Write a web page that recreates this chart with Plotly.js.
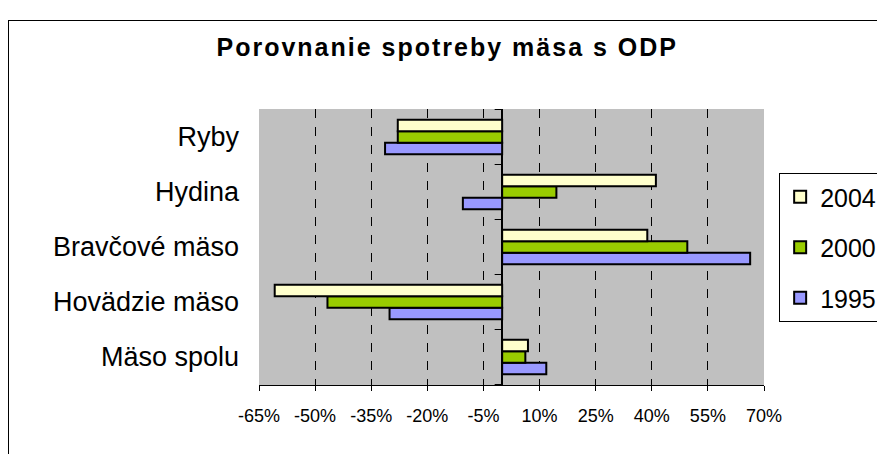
<!DOCTYPE html>
<html>
<head>
<meta charset="utf-8">
<script src="https://cdn.plot.ly/plotly-3.0.1.min.js"></script>
<style>
  html, body { margin: 0; padding: 0; background: #fff; overflow: hidden; }
  #chart { width: 877px; height: 454px; }
  #frame { position: absolute; left: 8px; top: 20px; width: 900px; height: 460px; border: 1px solid #000; pointer-events: none; }
  .gtitle { letter-spacing: 2px; }
</style>
</head>
<body>
<div id="chart"></div>
<div id="frame"></div>
<script>
// Categories (bottom to top as drawn)
const categories = ['Mäso spolu', 'Hovädzie mäso', 'Bravčové mäso', 'Hydina', 'Ryby'];
// Series values (percent)
const v2004 = [6.9, -60.8, 38.8, 41.1, -27.9];
const v2000 = [6.2, -46.7, 49.5, 14.5, -27.9];
const v1995 = [11.8, -30.1, 66.3, -10.5, -31.3];
// X tick values / labels
const tickValues = [-65, -50, -35, -20, -5, 10, 25, 40, 55, 70];
const tickLabels = ['-65%', '-50%', '-35%', '-20%', '-5%', '10%', '25%', '40%', '55%', '70%'];

const FONT = 'Liberation Sans, Arial, sans-serif';

function bar(name, vals, color, group, rank) {
  return {
    type: 'bar', orientation: 'h', name: name, x: vals, y: categories,
    legendgroup: group, legendrank: rank,
    marker: { color: color, line: { color: '#000', width: 2 } },
    hoverinfo: 'x+name'
  };
}

const data = [
  bar('1995', v1995, '#9999FF', 'g3', 3),
  bar('2000', v2000, '#99CC00', 'g2', 2),
  bar('2004', v2004, '#FFFFCC', 'g1', 1)
];

// small tick marks on the zero axis at category boundaries
const shapes = [];
for (let i = 0; i <= categories.length; i++) {
  shapes.push({ type: 'line', xref: 'x', yref: 'y', x0: -2, x1: 0, y0: i - 0.5, y1: i - 0.5,
    line: { color: '#000', width: 1 } });
}

const layout = {
  width: 877, height: 454,
  margin: { l: 259, r: 113, t: 109, b: 69, autoexpand: false },
  paper_bgcolor: '#fff',
  plot_bgcolor: '#C0C0C0',
  font: { family: FONT, color: '#000' },
  title: { text: '<b>Porovnanie spotreby mäsa s ODP</b>', font: { family: FONT, size: 25, color: '#000' },
    x: 0.51, xanchor: 'center', y: 0.895, yanchor: 'middle' },
  barmode: 'group', bargap: 0.37, bargroupgap: 0,
  showlegend: true,
  legend: { x: 1.03, xanchor: 'left', y: 0.768, yanchor: 'top', traceorder: 'grouped',
    tracegroupgap: 15, bordercolor: '#000', borderwidth: 1, bgcolor: '#fff',
    font: { family: FONT, size: 25, color: '#000' } },
  xaxis: {
    range: [-65, 70], tickvals: tickValues, ticktext: tickLabels,
    showgrid: true, gridcolor: '#000', griddash: 'dash', gridwidth: 1,
    zeroline: true, zerolinecolor: '#000', zerolinewidth: 1.5,
    showline: true, linecolor: '#000', linewidth: 1,
    ticks: 'outside', ticklen: 5, tickcolor: '#000',
    tickfont: { family: FONT, size: 18, color: '#000' },
    ticklabelstandoff: 9, fixedrange: true
  },
  yaxis: {
    type: 'category', categoryorder: 'array', categoryarray: categories,
    showgrid: false, zeroline: false, showline: false, ticks: '',
    tickfont: { family: FONT, size: 27, color: '#000' },
    ticklabelstandoff: 19, fixedrange: true
  },
  shapes: shapes
};

Plotly.newPlot('chart', data, layout, { displayModeBar: false, staticPlot: true });
</script>
</body>
</html>
